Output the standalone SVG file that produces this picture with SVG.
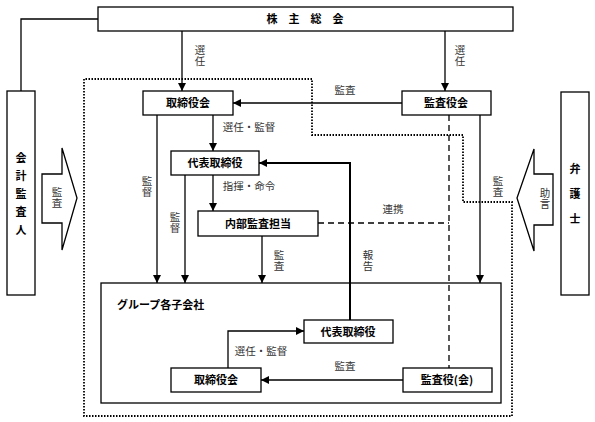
<svg xmlns="http://www.w3.org/2000/svg" width="595" height="422" viewBox="0 0 595 422">
<defs>
<marker id="ah" viewBox="0 0 10 10" refX="10" refY="5" markerWidth="8" markerHeight="8" markerUnits="userSpaceOnUse" orient="auto">
<path d="M0,0 L10,5 L0,10 z" fill="#000"/>
</marker>
</defs>
<style>
.box{fill:#fff;stroke:#000;stroke-width:1.3}
.bt{font-family:"Noto Sans CJK JP","Noto Sans",sans-serif;font-size:11px;font-weight:bold;fill:#000;text-anchor:middle}
.lb{font-family:"Noto Sans CJK JP","Noto Sans",sans-serif;font-size:10.5px;fill:#333;text-anchor:middle}
.vt{font-family:"Noto Sans CJK JP","Noto Sans",sans-serif;font-size:10.5px;fill:#333;text-anchor:middle;writing-mode:vertical-rl;text-orientation:upright;letter-spacing:1px}
.ln{fill:none;stroke:#000;stroke-width:1.3}
.la{fill:none;stroke:#000;stroke-width:1.3;marker-end:url(#ah)}
.dash{fill:none;stroke:#000;stroke-width:1.3;stroke-dasharray:6,4}
.dot{fill:none;stroke:#000;stroke-width:1.8;stroke-dasharray:1.5,1.5}
</style>
<rect width="595" height="422" fill="#fff"/>
<g id="boundary">
<path class="dot" d="M312,79 H84 V416 H512 V202 H463 V135 H312 Z"/>
</g>
<g id="kabunushi">
<rect class="box" x="98" y="7" width="415" height="24"/>
<text class="bt" x="305" y="23">株　主　総　会</text>
</g>
<g id="torishimariyakukai">
<rect class="box" x="143" y="91" width="90" height="24"/>
<text class="bt" x="188" y="107">取締役会</text>
</g>
<g id="kansayakukai">
<rect class="box" x="402" y="91" width="89" height="24"/>
<text class="bt" x="446" y="107">監査役会</text>
</g>
<g id="daihyo">
<rect class="box" x="171" y="151" width="88" height="24"/>
<text class="bt" x="215" y="167">代表取締役</text>
</g>
<g id="naibu">
<rect class="box" x="198" y="211" width="120" height="25"/>
<text class="bt" x="258" y="227.5">内部監査担当</text>
</g>
<g id="kaikei">
<rect class="box" x="7" y="91" width="28" height="204"/>
<text class="bt" x="21" y="162">会</text>
<text class="bt" x="21" y="180">計</text>
<text class="bt" x="21" y="198">監</text>
<text class="bt" x="21" y="216">査</text>
<text class="bt" x="21" y="234">人</text>
</g>
<g id="kansa-arrow">
<path class="box" d="M42,174 H62 V148 L77,198 L62,250 V223 H42 Z"/>
<text class="vt" x="57" y="198">監査</text>
</g>
<g id="bengoshi">
<rect class="box" x="561" y="92" width="28" height="203"/>
<text class="bt" x="575" y="173">弁</text>
<text class="bt" x="575" y="198">護</text>
<text class="bt" x="575" y="223">士</text>
</g>
<g id="jogen-arrow">
<path class="box" d="M553,174 H534 V149 L517,198 L534,251 V225 H553 Z"/>
<text class="vt" x="545" y="199">助言</text>
</g>
<g id="group">
<rect class="box" x="101" y="283" width="400" height="120"/>
<text class="bt" x="117" y="309" style="text-anchor:start">グループ各子会社</text>
</g>
<g id="g-daihyo">
<rect class="box" x="304" y="320" width="89" height="23"/>
<text class="bt" x="348" y="335.5">代表取締役</text>
</g>
<g id="g-torishimariyakukai">
<rect class="box" x="171" y="368" width="90" height="24"/>
<text class="bt" x="216" y="384">取締役会</text>
</g>
<g id="g-kansayaku">
<rect class="box" x="403" y="368" width="89" height="24"/>
<text class="bt" x="447" y="384">監査役(会)</text>
</g>
<g id="connectors">
<path class="ln" d="M98,19 H21 V91"/>
<path class="la" d="M182,31 V91"/>
<path class="la" d="M445,31 V91"/>
<path class="la" d="M402,103 H233"/>
<path class="la" d="M213,115 V151"/>
<path class="la" d="M157,115 V283"/>
<path class="la" d="M185,175 V283"/>
<path class="la" d="M213,175 V211"/>
<path class="la" d="M262,236 V283"/>
<path class="la" d="M480,115 V283"/>
<path fill="none" stroke="#000" stroke-width="2" marker-end="url(#ah)" d="M350,320 V163 H259"/>
<path class="dash" d="M318,223 H449"/>
<path class="dash" d="M449,115 V368"/>
<path class="la" d="M228,368 V331 H304"/>
<path class="la" d="M403,380 H261"/>
</g>
<g id="labels">
<text class="vt" x="200" y="56">選任</text>
<text class="vt" x="460" y="56">選任</text>
<text class="lb" x="345" y="94">監査</text>
<text class="lb" x="249" y="131">選任・監督</text>
<text class="lb" x="249" y="190">指揮・命令</text>
<text class="vt" x="147" y="187">監督</text>
<text class="vt" x="175" y="223">監督</text>
<text class="vt" x="279" y="261">監査</text>
<text class="vt" x="368" y="261">報告</text>
<text class="vt" x="498" y="187">監査</text>
<text class="lb" x="393" y="213">連携</text>
<text class="lb" x="261" y="355">選任・監督</text>
<text class="lb" x="345" y="370">監査</text>
</g>
</svg>
